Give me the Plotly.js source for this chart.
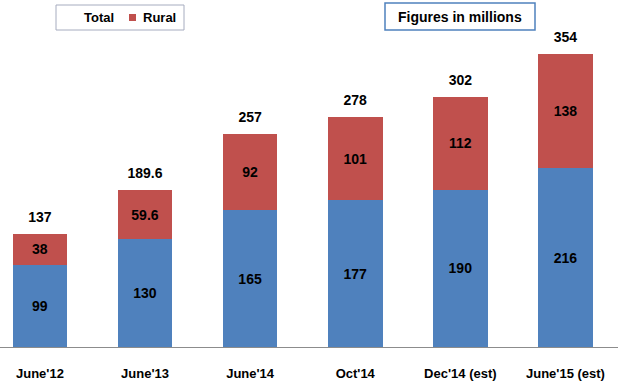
<!DOCTYPE html>
<html><head><meta charset="utf-8">
<script src="https://cdn.plot.ly/plotly-3.0.1.min.js"></script>
<style>html,body{margin:0;padding:0;background:#fff}</style>
</head><body>
<div id="chart" style="width:618px;height:385px"></div>
<script>
const categories = ["June'12", "June'13", "June'14", "Oct'14", "Dec'14 (est)", "June'15 (est)"];
const urban = [99, 130, 165, 177, 190, 216];
const rural = [38, 59.6, 92, 101, 112, 138];
const totals = [137, 189.6, 257, 278, 302, 354];
const totalLabels = ["137", "189.6", "257", "278", "302", "354"];

const FONT = "Liberation Sans, Arial, sans-serif";
const lblFont = {family: FONT, size: 14, color: '#000', weight: 'bold'};

// plot area: top 20px, bottom 347px (height 327)
const py = v => (347 - v) / 327;
const px = v => v / 618;

const traces = [
  {type: 'bar', name: 'Total', x: categories, y: urban, marker: {color: '#4F81BD'}, width: 0.52,
   text: urban.map(String), textposition: 'inside', insidetextanchor: 'middle', textangle: 0,
   insidetextfont: lblFont, hoverinfo: 'none'},
  {type: 'bar', name: 'Rural', x: categories, y: rural, marker: {color: '#C0504D'}, width: 0.52,
   text: rural.map(String), textposition: 'inside', insidetextanchor: 'middle', textangle: 0,
   insidetextfont: lblFont, hoverinfo: 'none'},
  {type: 'scatter', mode: 'markers+text', x: categories, y: totals, text: totalLabels,
   marker: {size: 12, color: 'rgba(0,0,0,0)'},
   textposition: 'top center', textfont: lblFont, showlegend: false, hoverinfo: 'none', cliponaxis: false}
];

const layout = {
  width: 618, height: 385,
  margin: {l: 0, r: 0, t: 20, b: 38},
  barmode: 'stack',
  showlegend: false,
  paper_bgcolor: '#fff', plot_bgcolor: '#fff',
  font: {family: FONT, color: '#000'},
  xaxis: {type: 'category', range: [-0.38, 5.5], showline: true, linecolor: '#8c8c8c', linewidth: 1,
          ticks: '', tickfont: {family: FONT, size: 13, color: '#000', weight: 'bold'}, ticklabelstandoff: 14,
          fixedrange: true},
  yaxis: {range: [0, 395], visible: false, showgrid: false, zeroline: false, fixedrange: true},
  shapes: [
    {type: 'rect', xref: 'paper', yref: 'paper', x0: px(56), x1: px(184), y0: py(30), y1: py(5),
     line: {color: '#a6acbf', width: 1}, fillcolor: 'rgba(0,0,0,0)'},
    {type: 'rect', xref: 'paper', yref: 'paper', x0: px(129), x1: px(136), y0: py(21), y1: py(14),
     line: {width: 0}, fillcolor: '#C0504D'},
    {type: 'rect', xref: 'paper', yref: 'paper', x0: px(385), x1: px(535), y0: py(30), y1: py(3),
     line: {color: '#4F81BD', width: 1.5}, fillcolor: 'rgba(0,0,0,0)'}
  ],
  annotations: [
    {xref: 'paper', yref: 'paper', x: px(99), y: py(17.5), text: 'Total', showarrow: false,
     font: {family: FONT, size: 13, color: '#000', weight: 'bold'}, xanchor: 'center', yanchor: 'middle'},
    {xref: 'paper', yref: 'paper', x: px(159), y: py(17.5), text: 'Rural', showarrow: false,
     font: {family: FONT, size: 13, color: '#000', weight: 'bold'}, xanchor: 'center', yanchor: 'middle'},
    {xref: 'paper', yref: 'paper', x: px(460), y: py(16.5), text: 'Figures in millions', showarrow: false,
     font: {family: FONT, size: 14, color: '#000', weight: 'bold'}, xanchor: 'center', yanchor: 'middle'}
  ]
};

Plotly.newPlot('chart', traces, layout, {displayModeBar: false, staticPlot: true});
</script>
</body></html>
